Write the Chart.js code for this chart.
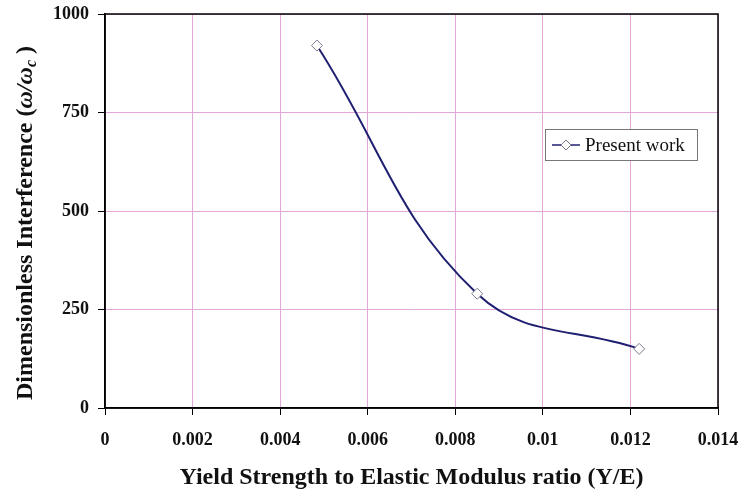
<!DOCTYPE html>
<html>
<head>
<meta charset="utf-8">
<script src="https://cdn.jsdelivr.net/npm/chart.js@4/dist/chart.umd.min.js"></script>
<style>
  html, body { margin: 0; padding: 0; background: #fff; }
  canvas { display: block; }
</style>
</head>
<body>
<canvas id="chart" width="742" height="492"></canvas>
<script>
"use strict";

// Y/E ratio vs dimensionless interference
const ratios = [0.00484, 0.0085, 0.0122];
const interference = [920, 290, 150];
const seriesName = "Present work";
const xTicks = [0, 0.002, 0.004, 0.006, 0.008, 0.01, 0.012, 0.014];
const yTicks = [0, 250, 500, 750, 1000];

const LINE = "#1f1f72";
const GRID = "#e2a6d8";
const SERIF = "'Liberation Serif', 'Times New Roman', serif";

// black box round the plot area, like the axes frame
const frame = {
    id: "frame",
    afterDraw(chart) {
        const a = chart.chartArea;
        const ctx = chart.ctx;
        ctx.save();
        ctx.strokeStyle = "#000";
        ctx.lineWidth = 1.5;
        ctx.strokeRect(a.left, a.top, a.right - a.left, a.bottom - a.top);
        ctx.restore();
    }
};

// y title has an italic omega and a subscript c, so it is drawn by hand
const yTitle = {
    id: "yTitle",
    afterDraw(chart) {
        const a = chart.chartArea;
        const ctx = chart.ctx;
        const bold = "bold 24px " + SERIF;
        const ital = "italic bold 24px " + SERIF;
        const sub = "italic bold 16px " + SERIF;
        const parts = [
            [bold, "Dimensionless Interference (", 0],
            [ital, "\u03C9/\u03C9", 0],
            [sub, "c", 6],
            [bold, " )", 0]
        ];
        ctx.save();
        let total = 0;
        parts.forEach(p => { ctx.font = p[0]; total += ctx.measureText(p[1]).width; });
        ctx.translate(26, (a.top + a.bottom) / 2 + 12);
        ctx.rotate(-Math.PI / 2);
        ctx.fillStyle = "#111";
        ctx.textBaseline = "middle";
        let x = -total / 2;
        parts.forEach(p => {
            ctx.font = p[0];
            ctx.fillText(p[1], x, p[2]);
            x += ctx.measureText(p[1]).width;
        });
        ctx.restore();
    }
};

// legend box sitting inside the plot
const boxLegend = {
    id: "boxLegend",
    afterDraw(chart) {
        const ctx = chart.ctx;
        const ds = chart.data.datasets[0];
        const x = 545, y = 129, w = 152, h = 31;
        ctx.save();
        ctx.fillStyle = "#fff";
        ctx.fillRect(x, y, w, h);
        ctx.strokeStyle = "#777";
        ctx.lineWidth = 1;
        ctx.strokeRect(x + 0.5, y + 0.5, w, h);
        const cy = y + h / 2 + 0.5;
        ctx.strokeStyle = ds.borderColor;
        ctx.lineWidth = 1.5;
        ctx.beginPath();
        ctx.moveTo(x + 7, cy);
        ctx.lineTo(x + 35, cy);
        ctx.stroke();
        ctx.beginPath();
        ctx.moveTo(x + 21, cy - 5);
        ctx.lineTo(x + 26, cy);
        ctx.lineTo(x + 21, cy + 5);
        ctx.lineTo(x + 16, cy);
        ctx.closePath();
        ctx.fillStyle = "#fff";
        ctx.fill();
        ctx.strokeStyle = ds.pointBorderColor;
        ctx.lineWidth = 1;
        ctx.stroke();
        ctx.fillStyle = "#111";
        ctx.font = "19px " + SERIF;
        ctx.textBaseline = "middle";
        ctx.fillText(ds.label, x + 40, cy + 1);
        ctx.restore();
    }
};

const ctx = document.getElementById("chart").getContext("2d");
new Chart(ctx, {
    type: "scatter",
    data: {
        datasets: [{
            label: seriesName,
            data: ratios.map((r, i) => ({ x: r, y: interference[i] })),
            showLine: true,
            tension: 0.4,
            borderColor: LINE,
            borderWidth: 2,
            pointStyle: "rectRot",
            pointRadius: 5.5,
            pointBackgroundColor: "#fff",
            pointBorderColor: "#7a7a90",
            pointBorderWidth: 1
        }]
    },
    options: {
        responsive: false,
        animation: false,
        devicePixelRatio: 1,
        layout: { padding: { top: 14, right: 24, left: 0, bottom: 0 } },
        plugins: {
            legend: { display: false },
            tooltip: { enabled: false }
        },
        scales: {
            x: {
                type: "linear",
                min: 0,
                max: 0.014,
                afterBuildTicks(scale) { scale.ticks = xTicks.map(v => ({ value: v })); },
                afterFit(scale) {
                    scale.height = 84;
                    scale.paddingLeft = 0;
                    scale.paddingRight = 0;
                },
                grid: { color: GRID, lineWidth: 1, tickColor: "#000", tickLength: 7 },
                border: { color: "#000", width: 1.5 },
                ticks: {
                    color: "#111",
                    padding: 15,
                    autoSkip: false,
                    maxRotation: 0,
                    font: { family: SERIF, size: 18, weight: "bold" },
                    callback: v => String(v)
                },
                title: {
                    display: true,
                    text: "Yield Strength to Elastic Modulus ratio (Y/E)",
                    color: "#111",
                    padding: { top: 6, bottom: 0 },
                    font: { family: SERIF, size: 24, weight: "bold" }
                }
            },
            y: {
                min: 0,
                max: 1000,
                afterBuildTicks(scale) { scale.ticks = yTicks.map(v => ({ value: v })); },
                afterFit(scale) {
                    scale.width = 105;
                    scale.paddingTop = 0;
                    scale.paddingBottom = 0;
                },
                grid: { color: GRID, lineWidth: 1, tickColor: "#000", tickLength: 7 },
                border: { color: "#000", width: 1.5 },
                ticks: {
                    color: "#111",
                    padding: 9,
                    autoSkip: false,
                    font: { family: SERIF, size: 18, weight: "bold" },
                    callback: v => String(v)
                },
                title: { display: false }
            }
        }
    },
    plugins: [frame, yTitle, boxLegend]
});
</script>
</body>
</html>
